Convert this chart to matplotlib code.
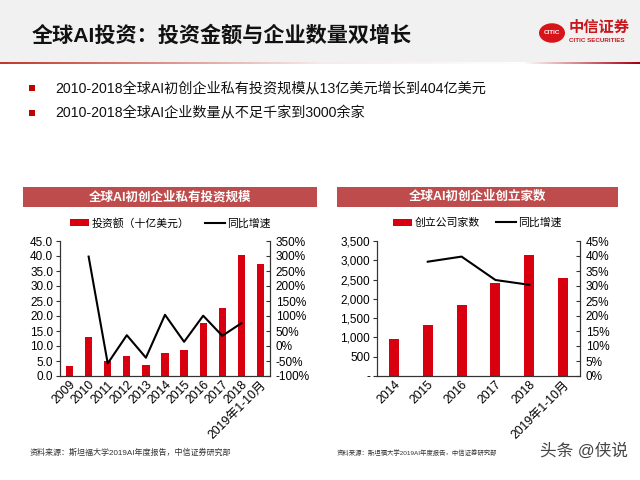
import numpy as np
import matplotlib
matplotlib.use("Agg")
import matplotlib.pyplot as plt
from matplotlib.patches import Rectangle, Circle
from matplotlib.colors import LinearSegmentedColormap
from matplotlib.ticker import FuncFormatter, MultipleLocator

plt.rcParams['font.family'] = ['Liberation Sans', 'Noto Sans CJK SC']

# data
invest_years = ['2009', '2010', '2011', '2012', '2013', '2014', '2015',
                '2016', '2017', '2018', '2019年1-10月']
invest_amount = [3.2, 13.0, 4.9, 6.6, 3.8, 7.8, 8.8, 17.7, 22.7, 40.3, 37.3]
invest_growth = [np.nan, 298, -58, 36, -39, 104, 14, 101, 34, 76, np.nan]

firm_years = ['2014', '2015', '2016', '2017', '2018', '2019年1-10月']
firm_count = [950, 1320, 1840, 2420, 3150, 2530]
firm_growth = [np.nan, 38.1, 39.8, 32.0, 30.4, np.nan]

title = '全球AI投资：投资金额与企业数量双增长'
bullets = ['2010-2018全球AI初创企业私有投资规模从13亿美元增长到404亿美元',
           '2010-2018全球AI企业数量从不足千家到3000余家']
source = '资料来源：斯坦福大学2019AI年度报告，中信证券研究部'

RED = '#d8000f'
BANNER = '#bf4c4c'

fig = plt.figure(figsize=(6.4, 4.8), dpi=100)
W, H = 640, 480

def fx(x):
    return x / W

def fy(y):
    return 1 - y / H

# header background
fig.patches.append(Rectangle((0, fy(62)), 1, 62 / H, transform=fig.transFigure,
                             facecolor='#f1f1f1', edgecolor='none', zorder=0))
fig.text(fx(32), fy(35), title, fontsize=15.2, fontweight='bold',
         va='center', ha='left', color='#111111')

# gradient rule under header
cmap = LinearSegmentedColormap.from_list(
    'rule', [(0, '#c0392b'), (0.5, '#f6eaea'), (0.82, '#ffffff'), (1, '#a80010')])
gax = fig.add_axes([0, fy(64), 1, 3 / H])
gax.imshow(np.linspace(0, 1, 400).reshape(1, -1), aspect='auto', cmap=cmap)
gax.axis('off')

# logo
fig.patches.append(Circle((fx(552), fy(33)), 13 / W, transform=fig.transFigure,
                          facecolor='#d7141a', edgecolor='none'))
fig.text(fx(552), fy(33), 'CITIC', fontsize=4.5, color='white', ha='center',
         va='center', fontweight='bold')
fig.text(fx(569), fy(28), '中信证券', fontsize=11, color='#c8161d', ha='left',
         va='center', fontweight='bold')
fig.text(fx(569), fy(41), 'CITIC SECURITIES', fontsize=4.5, color='#c8161d',
         ha='left', va='center', fontweight='bold')

# bullets
for i, b in enumerate(bullets):
    y = 88 + 25 * i
    fig.patches.append(Rectangle((fx(29), fy(y + 3)), 6 / W, 6 / H,
                                 transform=fig.transFigure, facecolor='#c00000',
                                 edgecolor='none'))
    fig.text(fx(55), fy(y), b, fontsize=10.2, va='center', ha='left', color='#111111')

def banner(x0, x1, text):
    fig.patches.append(Rectangle((fx(x0), fy(207)), (x1 - x0) / W, 20 / H,
                                 transform=fig.transFigure, facecolor=BANNER,
                                 edgecolor='none'))
    fig.text(fx((x0 + x1) / 2), fy(197), text, fontsize=9, color='white',
             ha='center', va='center', fontweight='bold')

def style(ax, ax2):
    for a in (ax, ax2):
        a.spines['top'].set_visible(False)
        for s in ('left', 'right', 'bottom'):
            a.spines[s].set_color('#333333')
            a.spines[s].set_linewidth(0.8)
    ax.tick_params(axis='y', labelsize=8.5, length=3, width=0.8, color='#333333',
                   direction='out', pad=2)
    ax2.tick_params(axis='y', labelsize=8.5, length=3, width=0.8, color='#333333',
                    direction='in', pad=4)
    ax.tick_params(axis='x', length=0, labelsize=8.8, pad=2)
    for lab in ax.get_xticklabels():
        lab.set_rotation(45)
        lab.set_ha('right')
        lab.set_rotation_mode('anchor')

# left chart
banner(23, 317, '全球AI初创企业私有投资规模')
ax = fig.add_axes([fx(60), fy(376), fx(270) - fx(60), (376 - 241) / H])
x = np.arange(len(invest_years))
ax.bar(x, invest_amount, width=0.38, color=RED, label='投资额（十亿美元）', zorder=2)
ax.set_xlim(-0.5, len(x) - 0.5)
ax.set_ylim(0, 45)
ax.yaxis.set_major_locator(MultipleLocator(5))
ax.yaxis.set_major_formatter(FuncFormatter(lambda v, p: f'{v:.1f}'))
ax.set_xticks(x)
ax.set_xticklabels(invest_years)
ax2 = ax.twinx()
ax2.plot(x, invest_growth, color='black', lw=1.5, label='同比增速')
ax2.set_ylim(-100, 350)
ax2.yaxis.set_major_locator(MultipleLocator(50))
ax2.yaxis.set_major_formatter(FuncFormatter(lambda v, p: f'{v:.0f}%'))
style(ax, ax2)
h1, l1 = ax.get_legend_handles_labels()
h2, l2 = ax2.get_legend_handles_labels()
fig.legend(h1 + h2, l1 + l2, loc='center', bbox_to_anchor=(fx(170), fy(223)),
           ncol=2, frameon=False, fontsize=7.8, handlelength=1.8, handletextpad=0.2,
           columnspacing=1.5)

# right chart
banner(337, 618, '全球AI初创企业创立家数')
bx = fig.add_axes([fx(377), fy(376), fx(580) - fx(377), (376 - 241) / H])
x2 = np.arange(len(firm_years))
bx.bar(x2, firm_count, width=0.3, color=RED, label='创立公司家数', zorder=2)
bx.set_xlim(-0.5, len(x2) - 0.5)
bx.set_ylim(0, 3500)
bx.yaxis.set_major_locator(MultipleLocator(500))
bx.yaxis.set_major_formatter(FuncFormatter(lambda v, p: '-' if v == 0 else f'{v:,.0f}'))
bx.set_xticks(x2)
bx.set_xticklabels(firm_years)
bx2 = bx.twinx()
bx2.plot(x2, firm_growth, color='black', lw=1.5, label='同比增速')
bx2.set_ylim(0, 45)
bx2.yaxis.set_major_locator(MultipleLocator(5))
bx2.yaxis.set_major_formatter(FuncFormatter(lambda v, p: f'{v:.0f}%'))
style(bx, bx2)
h1, l1 = bx.get_legend_handles_labels()
h2, l2 = bx2.get_legend_handles_labels()
fig.legend(h1 + h2, l1 + l2, loc='center', bbox_to_anchor=(fx(477), fy(223)),
           ncol=2, frameon=False, fontsize=7.8, handlelength=1.8, handletextpad=0.2,
           columnspacing=1.5)

# sources and watermark
fig.text(fx(30), fy(453), source, fontsize=5.8, color='#333333', va='center')
fig.text(fx(337), fy(453), source, fontsize=4.6, color='#333333', va='center')
fig.text(fx(540), fy(451), '头条 @侠说', fontsize=12, color='#444444', va='center')

fig.savefig('out.png', dpi=100)
